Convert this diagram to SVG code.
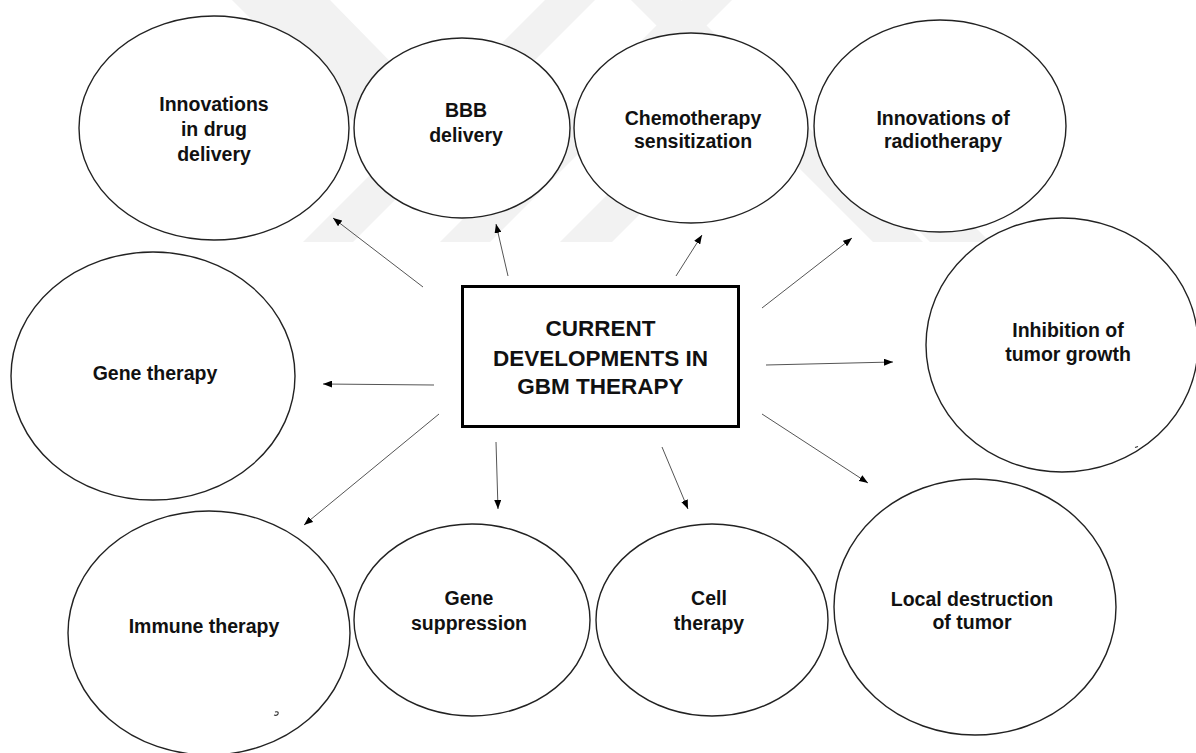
<svg xmlns="http://www.w3.org/2000/svg" width="1196" height="753" viewBox="0 0 1196 753">
  <style>
    .bubble { fill: #ffffff; stroke: #222222; stroke-width: 1.4; }
    .label { font-family: "Liberation Sans", Arial, sans-serif; font-weight: bold; font-size: 19.5px; fill: #111111; text-anchor: middle; }
    .title { font-family: "Liberation Sans", Arial, sans-serif; font-weight: bold; font-size: 22.5px; fill: #111111; text-anchor: middle; }
    .link { stroke: #555555; stroke-width: 1; fill: none; marker-end: url(#tip); }
    .mark { fill: #f2f2f2; }
  </style>
  <defs>
    <marker id="tip" viewBox="0 0 9 7" refX="9" refY="3.5" markerWidth="9" markerHeight="7" markerUnits="userSpaceOnUse" orient="auto">
      <path d="M0,0 L9,3.5 L0,7 z" fill="#000000"/>
    </marker>
  </defs>

  <rect width="1196" height="753" fill="#ffffff"/>

  <!-- faint background emblem -->
  <g id="emblem">
    <polygon class="mark" points="232,0 330,0 420,92 372,140"/>
    <polygon class="mark" points="303,242 353,242 595,0 545,0"/>
    <polygon class="mark" points="440,242 490,242 732,0 682,0"/>
    <polygon class="mark" points="873,242 923,242 681,0 631,0"/>
    <polygon class="mark" points="560,242 612,242 760,94 708,94"/>
    <polygon class="mark" points="930,242 990,242 900,152 870,182"/>
  </g>

  <!-- connectors from the central box -->
  <g id="connectors">
    <line class="link" x1="423" y1="287" x2="333" y2="218"/>
    <line class="link" x1="508" y1="276" x2="496" y2="224"/>
    <line class="link" x1="676" y1="276" x2="702" y2="235"/>
    <line class="link" x1="762" y1="308" x2="852" y2="238"/>
    <line class="link" x1="766" y1="365" x2="893" y2="362"/>
    <line class="link" x1="434" y1="385" x2="323" y2="384"/>
    <line class="link" x1="439" y1="414" x2="304" y2="525"/>
    <line class="link" x1="496" y1="442" x2="498" y2="509"/>
    <line class="link" x1="662" y1="447" x2="688" y2="509"/>
    <line class="link" x1="762" y1="414" x2="868" y2="483"/>
  </g>

  <g id="center">
    <rect x="462.5" y="286.5" width="276" height="140" fill="#ffffff" stroke="#000000" stroke-width="3"/>
    <text class="title" x="600.5" y="336">CURRENT</text>
    <text class="title" x="600.5" y="366">DEVELOPMENTS IN</text>
    <text class="title" x="600.5" y="394">GBM THERAPY</text>
  </g>

  <g id="drug-delivery">
    <ellipse class="bubble" cx="214" cy="128" rx="135" ry="112"/>
    <text class="label" x="214" y="111">Innovations</text>
    <text class="label" x="214" y="136">in drug</text>
    <text class="label" x="214" y="161">delivery</text>
  </g>

  <g id="bbb-delivery">
    <ellipse class="bubble" cx="462" cy="128" rx="108" ry="90"/>
    <text class="label" x="466" y="117">BBB</text>
    <text class="label" x="466" y="142">delivery</text>
  </g>

  <g id="chemo">
    <ellipse class="bubble" cx="691" cy="128" rx="117" ry="95"/>
    <text class="label" x="693" y="125">Chemotherapy</text>
    <text class="label" x="693" y="148">sensitization</text>
  </g>

  <g id="radiotherapy">
    <ellipse class="bubble" cx="940" cy="126" rx="126" ry="106"/>
    <text class="label" x="943" y="125">Innovations of</text>
    <text class="label" x="943" y="148">radiotherapy</text>
  </g>

  <g id="inhibition">
    <ellipse class="bubble" cx="1062" cy="345" rx="136" ry="127"/>
    <text class="label" x="1068" y="337">Inhibition of</text>
    <text class="label" x="1068" y="361">tumor growth</text>
    <path d="M1135,447.5 l3,-1" stroke="#333333" stroke-width="1.2" fill="none"/>
  </g>

  <g id="gene-therapy">
    <ellipse class="bubble" cx="153" cy="376" rx="142" ry="124"/>
    <text class="label" x="155" y="380">Gene therapy</text>
  </g>

  <g id="immune">
    <ellipse class="bubble" cx="209" cy="633" rx="141" ry="122"/>
    <text class="label" x="204" y="633">Immune therapy</text>
    <path d="M275,712 q4,-1 3,2 q-1,2 -4,1" stroke="#333333" stroke-width="1.2" fill="none"/>
  </g>

  <g id="gene-suppression">
    <ellipse class="bubble" cx="472" cy="620" rx="118" ry="96"/>
    <text class="label" x="469" y="605">Gene</text>
    <text class="label" x="469" y="630">suppression</text>
  </g>

  <g id="cell-therapy">
    <ellipse class="bubble" cx="712" cy="620" rx="116" ry="96"/>
    <text class="label" x="709" y="605">Cell</text>
    <text class="label" x="709" y="630">therapy</text>
  </g>

  <g id="local-destruction">
    <ellipse class="bubble" cx="975" cy="607" rx="141" ry="128"/>
    <text class="label" x="972" y="606">Local destruction</text>
    <text class="label" x="972" y="629">of tumor</text>
  </g>
</svg>
